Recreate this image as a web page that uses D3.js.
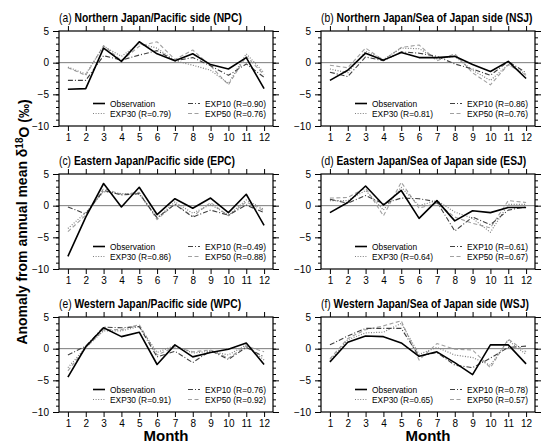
<!DOCTYPE html>
<html>
<head>
<meta charset="utf-8">
<script src="https://cdn.jsdelivr.net/npm/d3@7"></script>
<style>
body { margin: 0; background: #fff; }
text { font-family: "Liberation Sans", Arial, sans-serif; fill: #000; }
</style>
</head>
<body>
<svg id="chart" width="550" height="443"></svg>
<script>
var months = [1, 2, 3, 4, 5, 6, 7, 8, 9, 10, 11, 12];
var yMajor = [5, 0, -5, -10];

var panelTags = ["(a)", "(b)", "(c)", "(d)", "(e)", "(f)"];
var panelNames = ["Northern Japan/Pacific side (NPC)", "Northern Japan/Sea of Japan side (NSJ)",
                  "Eastern Japan/Pacific side (EPC)", "Eastern Japan/Sea of Japan side (ESJ)",
                  "Western Japan/Pacific side (WPC)", "Western Japan/Sea of Japan side (WSJ)"];

var r10 = [0.90, 0.86, 0.49, 0.61, 0.76, 0.78];
var r30 = [0.79, 0.81, 0.86, 0.64, 0.91, 0.65];
var r50 = [0.76, 0.76, 0.88, 0.67, 0.92, 0.57];

// monthly anomalies (permil)
var obsNPC   = [-4.2, -4.1, 2.3, 0.2, 3.3, 1.4, 0.3, 1.4, -0.3, -1.0, 0.8, -4.1];
var exp10NPC = [-2.8, -2.8, 1.1, 0.4, 1.2, 1.9, 0.3, 0.8, -0.5, -2.0, -0.2, -2.3];
var exp30NPC = [-0.7, -1.8, 2.6, 1.0, 3.0, 2.3, 0.3, -0.4, -1.2, -3.3, 1.4, -1.6];
var exp50NPC = [-0.8, -2.0, 2.7, 0.3, 2.6, 3.3, 0.5, 2.0, -0.5, -3.5, 1.0, -1.9];

var obsNSJ   = [-2.8, -1.2, 1.5, 0.4, 1.6, 0.8, 0.8, 1.0, -0.3, -1.4, 0.2, -2.5];
var exp10NSJ = [-1.5, -2.2, 0.9, 0.3, 1.7, 1.5, 1.0, -0.2, -1.0, -2.0, 0.2, -1.6];
var exp30NSJ = [-1.0, -1.6, 1.8, 0.5, 2.3, 2.2, 0.6, 1.0, -1.2, -2.8, -0.3, -1.8];
var exp50NSJ = [-0.4, -0.8, 2.3, 0.4, 2.4, 2.8, 0.3, 1.4, -1.6, -3.5, -0.3, -2.0];

var obsEPC   = [-8.0, -1.8, 3.5, -0.2, 2.9, -1.4, 1.1, -0.4, 1.2, -1.1, 1.8, -3.1];
var exp10EPC = [-0.2, -1.3, 2.4, 1.7, 1.9, -1.9, 0.2, -1.8, -0.7, -1.5, 0.1, -1.1];
var exp30EPC = [-3.6, -1.1, 2.2, 1.9, 1.8, -2.0, 0.6, -1.2, 0.2, -1.5, 0.9, -0.6];
var exp50EPC = [-4.1, -1.5, 2.7, 1.8, 2.1, -2.2, 0.3, -1.7, 0.5, -1.6, 0.6, -0.8];

var obsESJ   = [-1.1, 0.5, 3.1, 0.1, 2.4, -2.0, 0.8, -2.4, -0.8, -1.1, -0.3, -0.3];
var exp10ESJ = [1.0, 0.4, 1.6, 0.3, 1.2, 1.1, 0.6, -4.0, -1.8, -3.0, -0.7, -0.2];
var exp30ESJ = [0.8, 0.8, 2.4, -0.7, 2.9, 0.0, 0.8, -1.0, -2.0, -4.2, 0.2, 0.2];
var exp50ESJ = [1.2, 1.3, 2.8, -1.6, 3.7, -0.4, 0.4, -1.8, -2.8, -3.5, 0.8, 0.5];

var obsWPC   = [-4.5, 0.3, 3.3, 1.9, 2.6, -2.5, 0.6, -1.3, -0.6, -0.1, 0.9, -2.5];
var exp10WPC = [-1.0, 0.4, 3.4, 3.3, 3.5, -1.3, -0.4, -2.2, -0.3, -1.7, 0.2, -1.3];
var exp30WPC = [-3.0, 0.2, 2.8, 2.8, 3.5, -0.6, 0.5, -0.7, -0.4, -1.0, 0.6, -1.8];
var exp50WPC = [-3.5, 0.1, 3.0, 3.0, 3.8, -1.0, 0.3, -0.5, -0.2, -1.5, 0.4, -0.5];

var obsWSJ   = [-2.1, 1.0, 2.0, 1.9, 0.9, -1.2, -0.5, -2.2, -4.1, 0.6, 0.6, -2.4];
var exp10WSJ = [0.6, 2.0, 3.2, 3.2, 3.2, -1.2, -0.6, -2.6, -3.0, -1.5, 0.2, 0.4];
var exp30WSJ = [-1.9, 1.4, 2.5, 2.6, 4.0, -0.9, 0.2, -1.0, -1.4, -2.6, 1.3, -0.9];
var exp50WSJ = [-1.6, 1.6, 3.0, 3.6, 4.4, -1.8, 0.8, -0.1, -0.2, -3.0, 1.5, -0.5];

var obsAll   = [obsNPC, obsNSJ, obsEPC, obsESJ, obsWPC, obsWSJ];
var exp10All = [exp10NPC, exp10NSJ, exp10EPC, exp10ESJ, exp10WPC, exp10WSJ];
var exp30All = [exp30NPC, exp30NSJ, exp30EPC, exp30ESJ, exp30WPC, exp30WSJ];
var exp50All = [exp50NPC, exp50NSJ, exp50EPC, exp50ESJ, exp50WPC, exp50WSJ];

var svg = d3.select("#chart"),
    width = 214,
    height = 95,
    colX = [59, 321],
    rowY = [31, 174, 317];

// line styles, drawn back to front
var styles = [
    {key: "exp50", color: "#a0a0a0", dash: "4,2.5", w: 1.1},
    {key: "exp30", color: "#808080", dash: "1,1.6", w: 1.2},
    {key: "exp10", color: "#404040", dash: "5,2,1,2", w: 1.1},
    {key: "obs",   color: "#000",    dash: null,   w: 1.6}
];

var x = d3.scaleLinear().domain([0.5, 12.5]).range([0, width]);
var y = d3.scaleLinear().domain([-10, 5]).range([height, 0]);

var line = d3.line()
    .x(function(d, i) { return x(months[i]); })
    .y(function(d) { return y(d); });

panelNames.forEach(function(name, p) {
    var series = {obs: obsAll[p], exp10: exp10All[p], exp30: exp30All[p], exp50: exp50All[p]};
    var g = svg.append("g")
        .attr("transform", "translate(" + colX[p % 2] + "," + rowY[Math.floor(p / 2)] + ")");

    // title (original lettering is narrow, so squeeze it a bit)
    var t = g.append("text")
        .attr("transform", "translate(0,-9) scale(0.86,1)")
        .style("font-size", "12px");
    t.append("tspan").text(panelTags[p] + " ");
    t.append("tspan").style("font-weight", "bold").text(name);

    g.append("line")
        .attr("x1", 0).attr("x2", width)
        .attr("y1", y(0)).attr("y2", y(0))
        .attr("stroke", "#7a7a7a").attr("stroke-width", 1);

    styles.forEach(function(s) {
        g.append("path")
            .datum(series[s.key])
            .attr("d", line)
            .attr("fill", "none")
            .attr("stroke", s.color)
            .attr("stroke-width", s.w)
            .attr("stroke-dasharray", s.dash)
            .attr("stroke-linejoin", "round");
    });

    // axes
    g.append("g")
        .attr("class", "axis")
        .attr("transform", "translate(0," + height + ")")
        .call(d3.axisBottom(x).tickValues(months).tickSize(5).tickPadding(3));
    g.append("g")
        .attr("class", "axis")
        .call(d3.axisTop(x).tickValues(months).tickSize(5).tickFormat(""));
    g.append("g")
        .attr("class", "axis")
        .call(d3.axisLeft(y).tickValues(y.ticks(15)).tickSize(3).tickFormat(""));
    g.append("g")
        .attr("class", "axis")
        .call(d3.axisLeft(y).tickValues(yMajor).tickSize(6).tickPadding(4));
    g.append("g")
        .attr("class", "axis")
        .attr("transform", "translate(" + width + ",0)")
        .call(d3.axisRight(y).tickValues(y.ticks(15)).tickSize(3).tickFormat(""));
    g.append("g")
        .attr("class", "axis")
        .attr("transform", "translate(" + width + ",0)")
        .call(d3.axisRight(y).tickValues(yMajor).tickSize(6).tickFormat(""));

    g.append("rect")
        .attr("width", width).attr("height", height)
        .attr("fill", "none").attr("stroke", "#000").attr("stroke-width", 1.2);

    // legend
    var legend = [
        {key: "obs",   label: "Observation",                     lx: 34,  ly: 72.5},
        {key: "exp30", label: "EXP30 (R=" + r30[p].toFixed(2) + ")", lx: 34,  ly: 82.5},
        {key: "exp10", label: "EXP10 (R=" + r10[p].toFixed(2) + ")", lx: 129, ly: 72.5},
        {key: "exp50", label: "EXP50 (R=" + r50[p].toFixed(2) + ")", lx: 129, ly: 82.5}
    ];
    legend.forEach(function(l) {
        var s = styles.filter(function(d) { return d.key === l.key; })[0];
        g.append("line")
            .attr("x1", l.lx).attr("x2", l.lx + 12)
            .attr("y1", l.ly).attr("y2", l.ly)
            .attr("stroke", s.color).attr("stroke-width", s.w)
            .attr("stroke-dasharray", s.dash);
        g.append("text")
            .attr("transform", "translate(" + (l.lx + 17) + "," + l.ly + ") scale(0.88,1)")
            .attr("dy", "0.35em")
            .style("font-size", "9.5px")
            .text(l.label);
    });
});

svg.selectAll(".axis .domain").remove();
svg.selectAll(".axis line").attr("stroke", "#000");
svg.selectAll(".axis text").style("font-size", "10px").style("font-family", "Liberation Sans, Arial, sans-serif");

// axis titles
colX.forEach(function(cx) {
    svg.append("text")
        .attr("x", cx + width / 2)
        .attr("y", 441)
        .attr("text-anchor", "middle")
        .style("font-size", "15px")
        .style("font-weight", "bold")
        .text("Month");
});

var yl = svg.append("text")
    .attr("transform", "translate(27,222) rotate(-90)")
    .attr("text-anchor", "middle")
    .style("font-size", "14px")
    .style("font-weight", "bold");
yl.append("tspan").text("Anomaly from annual mean \u03b4");
yl.append("tspan").attr("dy", "-0.45em").style("font-size", "10px").text("18");
yl.append("tspan").attr("dy", "0.45em").text("O (\u2030)");
</script>
</body>
</html>
